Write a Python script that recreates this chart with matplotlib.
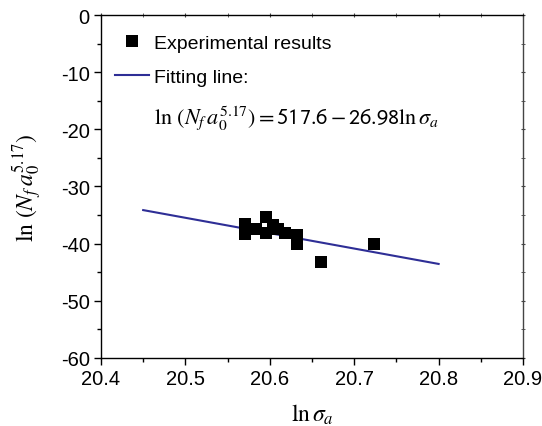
import matplotlib
matplotlib.use("Agg")
import matplotlib.pyplot as plt
from matplotlib.lines import Line2D
import numpy as np

plt.rcParams['font.family'] = ['Liberation Sans', 'DejaVu Sans']
plt.rcParams['mathtext.fontset'] = 'stix'

# Experimental data: ln(sigma_a) vs ln(N_f * a0^5.17)
ln_sigma = [20.571, 20.571, 20.584, 20.596, 20.596, 20.604, 20.610, 20.618,
            20.632, 20.632, 20.661, 20.723]
ln_life = [-36.6, -38.3, -37.5, -35.4, -38.2, -36.8, -37.5, -38.2,
           -38.5, -40.1, -43.2, -40.1]

# Fitted line ln(N_f a0^5.17) = intercept + slope * ln(sigma_a)
fit_intercept = 517.6
fit_slope = -26.98
fit_range = [20.45, 20.8]

x_ticks = [20.4, 20.5, 20.6, 20.7, 20.8, 20.9]
y_ticks = [0, -10, -20, -30, -40, -50, -60]

fig = plt.figure(figsize=(5.42, 4.27), dpi=100)
ax = fig.add_axes([0.1863, 0.1604, 0.7787, 0.801])

fit_x = np.array(fit_range)
fit_y = fit_intercept + fit_slope * fit_x
ax.plot(fit_x, fit_y, color='#2E2E96', lw=1.5, zorder=2)
ax.plot(ln_sigma, ln_life, 's', color='black', ms=8.8, mew=0, zorder=3)

ax.set_xlim(20.4, 20.9)
ax.set_ylim(-60, 0)
ax.set_xticks(x_ticks)
ax.set_xticklabels([f"{v:.1f}" for v in x_ticks])
ax.set_yticks(y_ticks)
ax.set_yticklabels([f"{v:d}" for v in y_ticks])
ax.set_xticks(np.arange(20.45, 20.9, 0.1), minor=True)
ax.set_yticks(np.arange(-55, 0, 10), minor=True)

ax.tick_params(axis='both', which='major', direction='out', length=5,
               width=1, labelsize=14.5, pad=3)
ax.tick_params(axis='both', which='minor', direction='out', length=3, width=1)
ax.tick_params(axis='both', which='both', top=False, right=False)

for side in ('left', 'bottom', 'top'):
    ax.spines[side].set_linewidth(1.0)
    ax.spines[side].set_color('black')
ax.spines['right'].set_linewidth(1.0)
ax.spines['right'].set_color('#444444')

# Mirrored short ticks on top and right
sec_x = ax.secondary_xaxis('top')
sec_x.set_xticks(x_ticks)
sec_x.set_xticks(np.arange(20.45, 20.9, 0.1), minor=True)
sec_x.tick_params(which='both', direction='inout', length=3, labeltop=False,
                  color='#444444')
sec_x.spines['top'].set_visible(False)
sec_y = ax.secondary_yaxis('right')
sec_y.set_yticks(y_ticks)
sec_y.set_yticks(np.arange(-55, 0, 10), minor=True)
sec_y.tick_params(which='both', direction='inout', length=3, labelright=False,
                  color='#444444')
sec_y.spines['right'].set_visible(False)

ax.set_xlabel(r'$\ln\sigma_a$', fontsize=17, labelpad=10)
ax.set_ylabel(r'$\ln\,(N_f\,a_0^{5.17})$', fontsize=17, labelpad=12)

handles = [
    Line2D([], [], ls='none', marker='s', color='black', ms=8.8, mew=0),
    Line2D([], [], color='#2E2E96', lw=1.5),
    Line2D([], [], ls='none', marker=None),
]
labels = [
    'Experimental results',
    'Fitting line:',
    r'$\ln\,(N_f\,a_0^{5.17})\mathsf{=517.6-26.98}\ln\sigma_a$',
]
leg = ax.legend(handles, labels, loc='upper left', bbox_to_anchor=(0.0, 0.985),
                frameon=False, fontsize=14, handlelength=1.75,
                handletextpad=0.3, labelspacing=0.85, borderaxespad=0.3)
leg.get_texts()[2].set_fontsize(16)

fig.savefig('out.png', dpi=100)
